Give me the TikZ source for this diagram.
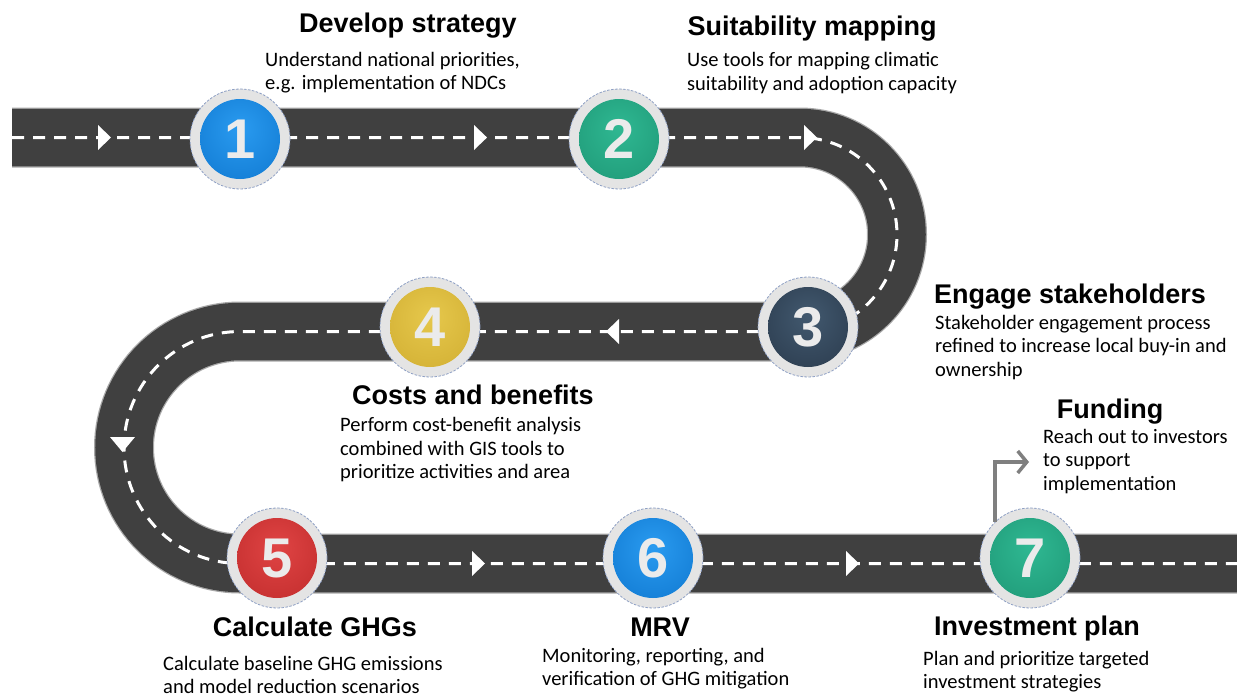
\documentclass[tikz,border=0pt]{standalone}
\usepackage{fontspec}
\setmainfont{Carlito}
\newfontfamily\headfont{Liberation Sans}
\usetikzlibrary{arrows.meta}

\definecolor{road}{HTML}{404040}
\definecolor{roadedge}{HTML}{A8A8A8}
\definecolor{ringgray}{HTML}{E4E4E4}
\definecolor{ringedge}{HTML}{8D9FC4}
\definecolor{digit}{HTML}{EBEBEB}
\definecolor{fundgray}{HTML}{7F7F7F}
\definecolor{bluein}{HTML}{2A9BF0}
\definecolor{blueout}{HTML}{0064BE}
\definecolor{tealin}{HTML}{2FB892}
\definecolor{tealout}{HTML}{158566}
\definecolor{navyin}{HTML}{42596F}
\definecolor{navyout}{HTML}{1C2838}
\definecolor{goldin}{HTML}{E6C84C}
\definecolor{goldout}{HTML}{C49E22}
\definecolor{redin}{HTML}{E04444}
\definecolor{redout}{HTML}{AE1E1E}
\colorlet{diskin}{bluein}
\colorlet{diskout}{blueout}

\pgfdeclareradialshading[diskin,diskout]{diskshade}{\pgfpoint{0bp}{6bp}}{color(0bp)=(diskin); color(50bp)=(diskout)}

\tikzset{
  roadedgeline/.style={draw=roadedge, line width=60pt},
  roadbody/.style={draw=road, line width=57.5pt},
  lane/.style={draw=white, line width=3pt, dash pattern=on 12pt off 9pt},
  lanearrow/.style={fill=white},
  stepcircle/.style={circle, minimum size=100pt, inner sep=0pt, fill=ringgray,
    draw=ringedge, line width=0.8pt, dash pattern=on 2.5pt off 1.5pt,
    font=\headfont\bfseries\fontsize{56}{56}\selectfont, text=digit,
    path picture={\colorlet{diskin}{#1in}\colorlet{diskout}{#1out}%
      \shade[shading=diskshade] (path picture bounding box.center) circle[radius=40pt];}},
  steptitle/.style={font=\headfont\bfseries\fontsize{27}{31}\selectfont, anchor=base, inner sep=0pt, text=black},
  stepdesc/.style={font=\fontsize{20.5}{23.5}\selectfont, anchor=base west, inner sep=0pt, text=black},
  fundarrow/.style={draw=fundgray, line width=3.5pt, -{Straight Barb[length=9pt,width=22pt]}}
}

\begin{document}
\begin{tikzpicture}[x=1pt,y=-1pt]
\useasboundingbox (0,0) rectangle (1237,697);
\fill[white] (0,0) rectangle (1237,697);

% road
\draw[roadedgeline] (12,137.5) -- (800,137.5) arc[start angle=270, end angle=450, radius=97]
  -- (240,331.5) arc[start angle=270, end angle=90, radius=116] -- (1237,563.5);
\draw[roadbody] (12,137.5) -- (800,137.5) arc[start angle=270, end angle=450, radius=97]
  -- (240,331.5) arc[start angle=270, end angle=90, radius=116] -- (1237,563.5);
\draw[lane] (12,137.5) -- (800,137.5) arc[start angle=270, end angle=450, radius=97]
  -- (240,331.5) arc[start angle=270, end angle=90, radius=116] -- (1237,563.5);

% direction arrows on the lane
\fill[lanearrow] (98,125) -- (111,137.5) -- (98,150) -- cycle;
\fill[lanearrow] (474,125) -- (487,137.5) -- (474,150) -- cycle;
\fill[lanearrow] (804,125) -- (817,137.5) -- (804,150) -- cycle;
\fill[lanearrow] (619,319) -- (606,331.5) -- (619,344) -- cycle;
\fill[lanearrow] (110,437) -- (122.5,452) -- (135,437) -- cycle;
\fill[lanearrow] (472,551) -- (485,563.5) -- (472,576) -- cycle;
\fill[lanearrow] (846,551) -- (859,563.5) -- (846,576) -- cycle;

% step circles
\node[stepcircle=blue] (n1) at (240,139) {1};
\node[stepcircle=teal] (n2) at (619,139) {2};
\node[stepcircle=navy] (n3) at (808,327) {3};
\node[stepcircle=gold] (n4) at (430,327) {4};
\node[stepcircle=red]  (n5) at (277,558) {5};
\node[stepcircle=blue] (n6) at (653,558) {6};
\node[stepcircle=teal] (n7) at (1030,558) {7};

% funding arrow
\coordinate (fundtip) at (1029,462);
\draw[fundarrow] (n7.134) |- (fundtip);

% titles
\node[steptitle] (t1) at (408,32) {Develop strategy};
\node[steptitle] (t2) at (812,35) {Suitability mapping};
\node[steptitle] (t3) at (1070,303) {Engage stakeholders};
\node[steptitle] (t4) at (473,404) {Costs and benefits};
\node[steptitle] (t5) at (315,636) {Calculate GHGs};
\node[steptitle] (t6) at (660,636) {MRV};
\node[steptitle] (t7) at (1037,635) {Investment plan};
\node[steptitle] (t8) at (1110,418) {Funding};

% descriptions
\node[stepdesc] (d1) at (265,66) {\begin{tabular}[t]{@{}l@{}}Understand national priorities,\\e.g. implementation of NDCs\end{tabular}};
\node[stepdesc] (d2) at (687,66.5) {\begin{tabular}[t]{@{}l@{}}Use tools for mapping climatic\\suitability and adoption capacity\end{tabular}};
\node[stepdesc] (d3) at (935,329) {\begin{tabular}[t]{@{}l@{}}Stakeholder engagement process\\refined to increase local buy-in and\\ownership\end{tabular}};
\node[stepdesc] (d4) at (340,431.5) {\begin{tabular}[t]{@{}l@{}}Perform cost-benefit analysis\\combined with GIS tools to\\prioritize activities and area\end{tabular}};
\node[stepdesc] (d5) at (163,670) {\begin{tabular}[t]{@{}l@{}}Calculate baseline GHG emissions\\and model reduction scenarios\end{tabular}};
\node[stepdesc] (d6) at (542,662) {\begin{tabular}[t]{@{}l@{}}Monitoring, reporting, and\\verification of GHG mitigation\end{tabular}};
\node[stepdesc] (d7) at (923,665) {\begin{tabular}[t]{@{}l@{}}Plan and prioritize targeted\\investment strategies\end{tabular}};
\node[stepdesc] (d8) at (1043,443) {\begin{tabular}[t]{@{}l@{}}Reach out to investors\\to support\\implementation\end{tabular}};
\end{tikzpicture}
\end{document}
